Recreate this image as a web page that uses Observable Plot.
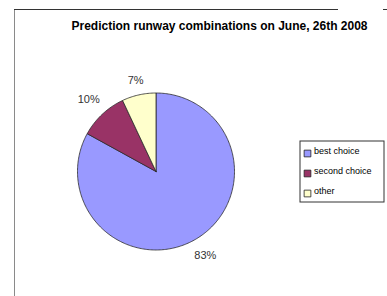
<!DOCTYPE html>
<html>
<head>
<meta charset="utf-8">
<script src="https://cdn.jsdelivr.net/npm/d3@7"></script>
<script src="https://cdn.jsdelivr.net/npm/@observablehq/plot@0.6"></script>
<style>
  html, body { margin: 0; padding: 0; background: #fff; }
  #wrap { position: relative; width: 387px; height: 296px; overflow: hidden; font-family: "Liberation Sans", Arial, sans-serif; }
  #frameL { position: absolute; left: 14px; top: 9px; width: 0; height: 300px; border-left: 1px solid #8a8a8a; }
  #frameT { position: absolute; left: 14px; top: 9px; width: 324px; height: 0; border-top: 1px solid #333; }
  #tick { position: absolute; left: 383px; top: 9px; width: 4px; height: 0; border-top: 1px solid #333; }
  #chart { position: absolute; left: 0; top: 0; }
</style>
</head>
<body>
<div id="wrap">
  <div id="chart"></div>
  <div id="frameL"></div>
  <div id="frameT"></div>
  <div id="tick"></div>
</div>
<script>
const title = "Prediction runway combinations on June, 26th 2008";
const categories = ["best choice", "second choice", "other"];
const values = [83, 10, 7];
const labels = ["83%", "10%", "7%"];
const colors = ["#9999ff", "#993366", "#ffffcc"];

// layout
const W = 387, H = 296;
const cx = 155.5, cy = 171, R = 78.5;

const total = d3.sum(values);
let cum = 0;
const slices = categories.map((c, i) => {
  const a0 = cum / total * 2 * Math.PI;
  cum += values[i];
  const a1 = cum / total * 2 * Math.PI;
  return {category: c, value: values[i], label: labels[i], a0, a1};
});

// polygon points for each slice (angle clockwise from 12 o'clock)
const pts = [];
for (const s of slices) {
  pts.push({category: s.category, x: cx, y: cy});
  const n = Math.max(2, Math.ceil((s.a1 - s.a0) / (Math.PI / 180)));
  for (let k = 0; k <= n; k++) {
    const a = s.a0 + (s.a1 - s.a0) * k / n;
    pts.push({category: s.category, x: cx + R * Math.sin(a), y: cy - R * Math.cos(a)});
  }
  pts.push({category: s.category, x: cx, y: cy});
}

// label positions: outside the pie, pushed out by text half-extent
const fs = 11;
const labelData = slices.map(s => {
  const a = (s.a0 + s.a1) / 2;
  const sx = Math.sin(a), cy_ = -Math.cos(a);
  const hw = s.label.length * fs * 0.33, hh = fs * 0.42;
  const ext = Math.abs(sx) * hw + Math.abs(cy_) * hh;
  const rr = R + 9 + ext;
  return {label: s.label, x: cx + rr * sx, y: cy + rr * cy_};
});

// legend
const legX = 300, legY = 141, legW = 84, legH = 61;
const legend = categories.map((c, i) => ({category: c, x: 307, tx: 313.5, y: 153 + i * 20}));

const plot = Plot.plot({
  width: W, height: H,
  margin: 0,
  x: {domain: [0, W], range: [0, W], axis: null},
  y: {domain: [0, H], range: [0, H], axis: null},
  color: {domain: categories, range: colors},
  style: {fontFamily: "'Liberation Sans', Arial, sans-serif", background: "transparent"},
  marks: [
    Plot.line(pts, {x: "x", y: "y", z: "category", fill: "category", stroke: "#2a2a2a", strokeWidth: 0.8, curve: "linear"}),
    Plot.text(labelData, {x: "x", y: "y", text: "label", fontSize: fs, fill: "#333", textAnchor: "middle", lineAnchor: "middle"}),
    Plot.text([title], {x: 219, y: 26, text: d => d, fontSize: 12, fontWeight: "bold", fill: "#000", textAnchor: "middle", lineAnchor: "middle"}),
    Plot.rect([{x1: legX, x2: legX + legW, y1: legY, y2: legY + legH}], {x1: "x1", x2: "x2", y1: "y1", y2: "y2", fill: "#fff", stroke: "#333", strokeWidth: 1}),
    Plot.dot(legend, {x: "x", y: "y", symbol: "square", r: 3.8, fill: "category", stroke: "#222", strokeWidth: 0.8}),
    Plot.text(legend, {x: "tx", y: "y", text: "category", fontSize: 9, fill: "#000", textAnchor: "start", lineAnchor: "middle", dy: -2})
  ]
});
document.getElementById("chart").appendChild(plot);
</script>
</body>
</html>
